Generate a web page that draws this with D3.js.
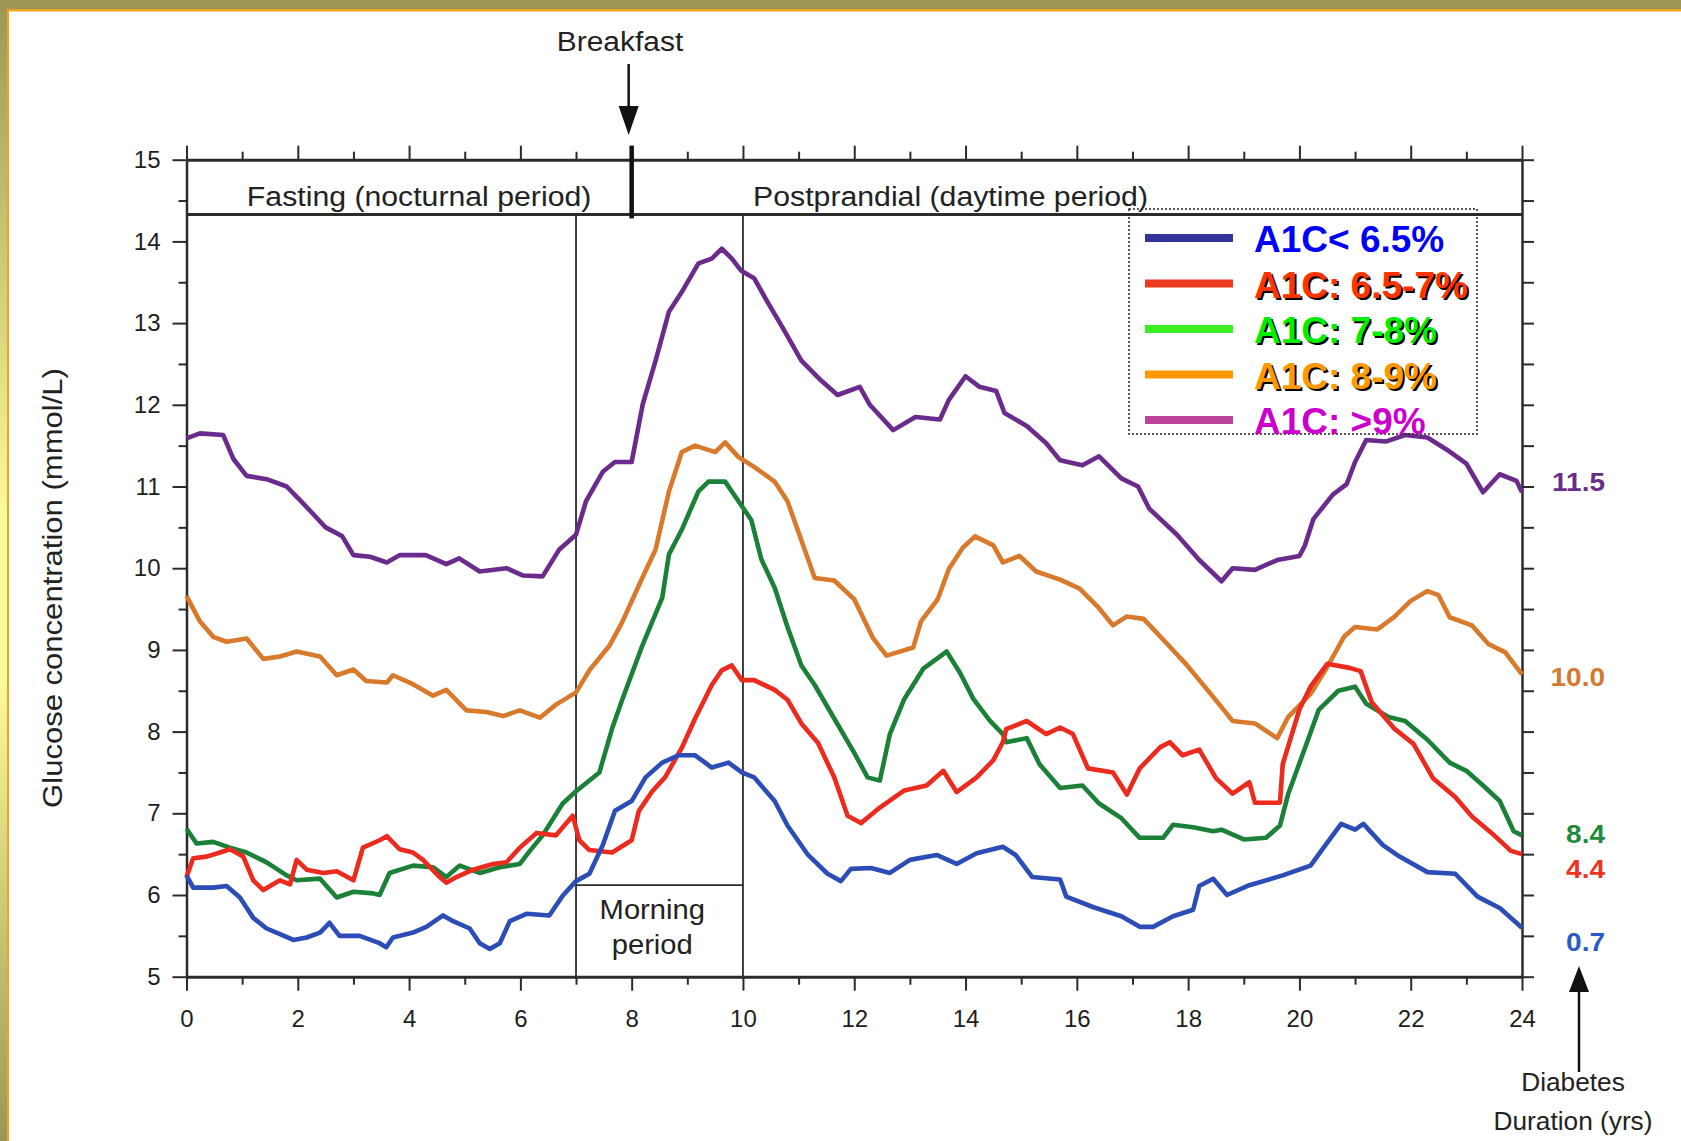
<!DOCTYPE html>
<html>
<head>
<meta charset="utf-8">
<script src="https://cdn.jsdelivr.net/npm/d3@7"></script>
<style>
  html, body { margin: 0; padding: 0; background: #fff; }
  svg { display: block; }
  text { font-family: "Liberation Sans", Arial, Helvetica, sans-serif; }
</style>
</head>
<body>
<div id="container"></div>
<script>
// glucose curves, [hour, mmol/L]
var a1cBelow65 = [[0,6.24],[0.12,6.09],[0.48,6.09],[0.72,6.11],[0.96,5.97],[1.2,5.72],[1.44,5.59],[1.68,5.52],[1.92,5.45],[2.16,5.48],[2.4,5.54],[2.57,5.66],[2.75,5.5],[3.11,5.5],[3.47,5.41],[3.59,5.36],[3.71,5.48],[4.07,5.54],[4.31,5.61],[4.61,5.75],[4.79,5.68],[5.09,5.59],[5.27,5.41],[5.45,5.34],[5.63,5.41],[5.81,5.68],[6.11,5.77],[6.52,5.75],[6.76,5.99],[7.0,6.17],[7.24,6.26],[7.48,6.61],[7.7,7.03],[8.0,7.15],[8.25,7.44],[8.55,7.62],[8.84,7.71],[9.14,7.71],[9.44,7.56],[9.74,7.62],[9.98,7.5],[10.2,7.44],[10.57,7.15],[10.8,6.85],[11.17,6.49],[11.52,6.26],[11.76,6.17],[11.94,6.32],[12.3,6.33],[12.64,6.27],[13.0,6.43],[13.48,6.49],[13.84,6.38],[14.2,6.51],[14.67,6.59],[14.9,6.49],[15.2,6.22],[15.7,6.19],[15.81,5.98],[16.3,5.85],[16.8,5.74],[17.13,5.61],[17.37,5.61],[17.73,5.74],[18.09,5.82],[18.2,6.11],[18.45,6.2],[18.7,6.0],[19.1,6.12],[19.7,6.24],[20.2,6.36],[20.5,6.64],[20.75,6.87],[21.0,6.8],[21.15,6.87],[21.5,6.61],[21.8,6.47],[22.3,6.28],[22.8,6.26],[23.2,5.98],[23.6,5.84],[24,5.6]];

var a1c65to7 = [[0,6.22],[0.12,6.45],[0.36,6.47],[0.6,6.52],[0.78,6.56],[1.02,6.47],[1.2,6.18],[1.38,6.06],[1.68,6.18],[1.86,6.13],[1.98,6.43],[2.16,6.31],[2.46,6.27],[2.7,6.29],[3.0,6.18],[3.17,6.58],[3.47,6.67],[3.6,6.72],[3.83,6.56],[4.07,6.52],[4.25,6.43],[4.55,6.22],[4.67,6.15],[4.85,6.22],[5.15,6.31],[5.51,6.38],[5.75,6.4],[5.99,6.58],[6.29,6.76],[6.64,6.73],[6.94,6.97],[7.06,6.67],[7.24,6.55],[7.65,6.52],[8.0,6.67],[8.13,7.03],[8.37,7.27],[8.6,7.44],[8.9,7.8],[9.14,8.16],[9.44,8.57],[9.62,8.75],[9.8,8.81],[9.98,8.63],[10.2,8.63],[10.57,8.51],[10.8,8.39],[11.05,8.1],[11.35,7.86],[11.64,7.44],[11.88,6.97],[12.12,6.88],[12.46,7.07],[12.9,7.28],[13.3,7.34],[13.6,7.52],[13.84,7.26],[14.2,7.44],[14.5,7.65],[14.67,7.87],[14.73,8.03],[15.1,8.13],[15.45,7.97],[15.7,8.05],[15.93,7.97],[16.2,7.55],[16.65,7.5],[16.9,7.23],[17.13,7.55],[17.5,7.81],[17.67,7.87],[17.9,7.71],[18.2,7.78],[18.5,7.43],[18.8,7.24],[19.1,7.38],[19.2,7.13],[19.65,7.13],[19.7,7.6],[20.0,8.27],[20.2,8.55],[20.5,8.83],[20.9,8.78],[21.1,8.74],[21.3,8.36],[21.7,8.04],[22.05,7.85],[22.4,7.43],[22.8,7.2],[23.1,6.96],[23.5,6.73],[23.8,6.54],[24,6.5]];

var a1c7to8 = [[0,6.81],[0.18,6.63],[0.48,6.65],[0.78,6.58],[1.08,6.52],[1.44,6.4],[1.8,6.24],[1.98,6.18],[2.4,6.2],[2.7,5.97],[3.0,6.04],[3.35,6.02],[3.47,6.0],[3.65,6.27],[4.07,6.36],[4.43,6.34],[4.67,6.22],[4.91,6.36],[5.27,6.27],[5.63,6.34],[5.99,6.38],[6.17,6.54],[6.4,6.73],[6.76,7.12],[7.0,7.27],[7.42,7.5],[7.65,8.04],[7.83,8.39],[8.19,9.05],[8.55,9.64],[8.67,10.17],[8.9,10.47],[9.2,10.94],[9.38,11.06],[9.68,11.06],[9.92,10.82],[10.15,10.59],[10.33,10.11],[10.57,9.76],[10.8,9.28],[11.05,8.81],[11.29,8.57],[11.64,8.16],[12.0,7.74],[12.24,7.44],[12.46,7.4],[12.64,7.97],[12.9,8.4],[13.24,8.77],[13.66,8.98],[13.9,8.72],[14.14,8.4],[14.44,8.13],[14.67,7.97],[14.73,7.87],[15.1,7.92],[15.33,7.6],[15.7,7.31],[16.1,7.34],[16.4,7.12],[16.8,6.94],[17.13,6.7],[17.55,6.7],[17.73,6.86],[18.09,6.83],[18.45,6.78],[18.6,6.8],[19.0,6.68],[19.4,6.7],[19.65,6.85],[19.8,7.24],[20.1,7.8],[20.35,8.27],[20.7,8.5],[21.0,8.55],[21.2,8.34],[21.6,8.18],[21.9,8.13],[22.3,7.9],[22.7,7.62],[23.0,7.52],[23.3,7.34],[23.6,7.15],[23.85,6.78],[24,6.73]];

var a1c8to9 = [[0,9.66],[0.24,9.35],[0.48,9.16],[0.72,9.1],[1.08,9.14],[1.38,8.89],[1.68,8.92],[1.98,8.98],[2.4,8.92],[2.7,8.69],[3.0,8.76],[3.23,8.62],[3.6,8.6],[3.71,8.69],[4.07,8.58],[4.43,8.44],[4.67,8.51],[5.03,8.26],[5.39,8.24],[5.69,8.19],[5.99,8.26],[6.35,8.17],[6.64,8.33],[7.0,8.48],[7.24,8.75],[7.6,9.05],[7.83,9.34],[8.19,9.88],[8.43,10.23],[8.67,10.94],[8.9,11.42],[9.14,11.5],[9.5,11.42],[9.68,11.54],[9.92,11.36],[10.2,11.24],[10.57,11.06],[10.8,10.82],[11.17,10.11],[11.29,9.88],[11.64,9.85],[12.0,9.62],[12.34,9.14],[12.58,8.93],[13.06,9.03],[13.2,9.35],[13.5,9.62],[13.7,9.99],[13.95,10.25],[14.17,10.39],[14.5,10.28],[14.67,10.07],[14.97,10.15],[15.27,9.96],[15.7,9.86],[16.05,9.75],[16.4,9.51],[16.65,9.3],[16.9,9.41],[17.2,9.38],[17.6,9.09],[17.97,8.82],[18.3,8.55],[18.6,8.3],[18.8,8.13],[19.2,8.1],[19.6,7.92],[19.8,8.18],[20.2,8.46],[20.5,8.79],[20.8,9.16],[21.0,9.28],[21.4,9.25],[21.7,9.4],[22.0,9.6],[22.3,9.72],[22.5,9.67],[22.7,9.4],[23.1,9.3],[23.4,9.07],[23.7,8.97],[24,8.7]];

var a1cAbove9 = [[0,11.59],[0.24,11.65],[0.66,11.63],[0.84,11.34],[1.08,11.13],[1.44,11.09],[1.8,11.0],[2.1,10.79],[2.28,10.66],[2.5,10.5],[2.8,10.39],[3.0,10.16],[3.3,10.14],[3.6,10.07],[3.83,10.16],[4.3,10.16],[4.67,10.05],[4.9,10.12],[5.27,9.96],[5.75,10.0],[6.05,9.91],[6.4,9.9],[6.7,10.23],[7.0,10.41],[7.18,10.82],[7.48,11.18],[7.7,11.3],[8.0,11.3],[8.2,12.01],[8.43,12.54],[8.67,13.14],[8.9,13.38],[9.2,13.73],[9.44,13.79],[9.62,13.91],[9.8,13.79],[9.97,13.64],[10.2,13.55],[10.44,13.26],[10.7,12.96],[11.05,12.54],[11.4,12.3],[11.7,12.12],[12.1,12.22],[12.28,12.0],[12.7,11.69],[13.1,11.85],[13.54,11.82],[13.7,12.06],[14.0,12.35],[14.25,12.22],[14.55,12.17],[14.7,11.9],[15.1,11.74],[15.45,11.53],[15.7,11.32],[16.1,11.26],[16.4,11.37],[16.8,11.1],[17.1,11.0],[17.3,10.73],[17.8,10.41],[18.2,10.1],[18.6,9.84],[18.8,10.0],[19.2,9.98],[19.6,10.1],[20.0,10.15],[20.1,10.28],[20.25,10.6],[20.6,10.9],[20.85,11.03],[21.0,11.3],[21.2,11.57],[21.55,11.55],[21.9,11.63],[22.3,11.6],[22.65,11.45],[23.0,11.28],[23.3,10.93],[23.6,11.15],[23.9,11.07],[24,10.93]];

var legendLabels = ["A1C< 6.5%", "A1C: 6.5-7%", "A1C: 7-8%", "A1C: 8-9%", "A1C: >9%"];
var durationLabels = ["0.7", "4.4", "8.4", "10.0", "11.5"];
var xTicks = [0, 2, 4, 6, 8, 10, 12, 14, 16, 18, 20, 22, 24];
var yTicks = [5, 6, 7, 8, 9, 10, 11, 12, 13, 14, 15];

var W = 1681, H = 1141;
var lineColors = ["#2b4db5", "#ec2a1e", "#1b8038", "#d8792c", "#6a2b8c"];
var swatchColors = ["#333399", "#ee3a1f", "#3aee22", "#ff9900", "#bb4499"];
var textColors = ["#0000ff", "#ff3300", "#00ee00", "#ff9900", "#cc00cc"];
var durColors = ["#2a5cc4", "#ee3322", "#1e8a3c", "#d4792e", "#6b2d8a"];
var durY = [951, 878, 843, 686, 491];

var series = [a1cBelow65, a1c65to7, a1c7to8, a1c8to9, a1cAbove9];

var svg = d3.select("#container").append("svg")
    .attr("width", W)
    .attr("height", H);

svg.append("rect").attr("width", W).attr("height", H).attr("fill", "#fff");

// slide frame
var grad = svg.append("defs").append("linearGradient")
    .attr("id", "leftStrip").attr("x1", 0).attr("y1", 0).attr("x2", 0).attr("y2", 1);
grad.append("stop").attr("offset", "0%").attr("stop-color", "#9b9656");
grad.append("stop").attr("offset", "45%").attr("stop-color", "#fcfa96");
grad.append("stop").attr("offset", "60%").attr("stop-color", "#fcfa96");
grad.append("stop").attr("offset", "100%").attr("stop-color", "#9b9656");
svg.append("rect").attr("x", 0).attr("y", 0).attr("width", 7).attr("height", H).attr("fill", "url(#leftStrip)");
svg.append("rect").attr("x", 7).attr("y", 0).attr("width", 2).attr("height", H).attr("fill", "#f2a31f");
svg.append("rect").attr("x", 0).attr("y", 0).attr("width", W).attr("height", 9).attr("fill", "#9b9656");
svg.append("rect").attr("x", 7).attr("y", 9).attr("width", W).attr("height", 2.5).attr("fill", "#f2a31f");

var x = d3.scaleLinear().domain([0, 24]).range([186.5, 1522]);
var y = d3.scaleLinear().domain([5, 15]).range([976.7, 159.7]);

var ink = "#2b2b2b";

function styleAxis(g, w) {
    g.attr("color", ink);
    g.select(".domain").attr("stroke-width", w);
    g.selectAll(".tick line").attr("stroke-width", 2);
    g.selectAll(".tick text")
        .attr("fill", "#1e1e1e")
        .style("font-size", "24px")
        .style("font-family", "'Liberation Sans', Arial, sans-serif");
}

// minor ticks
svg.append("g").attr("transform", "translate(" + x(0) + ",0)")
    .call(d3.axisLeft(y).tickValues(d3.range(5.5, 15, 1)).tickSize(8).tickFormat(""))
    .call(function(g) { g.select(".domain").remove(); styleAxis(g, 2); });
svg.append("g").attr("transform", "translate(0," + y(5) + ")")
    .call(d3.axisBottom(x).tickValues(d3.range(1, 24, 2)).tickSize(8).tickFormat(""))
    .call(function(g) { g.select(".domain").remove(); styleAxis(g, 2); });
svg.append("g").attr("transform", "translate(0," + y(15) + ")")
    .call(d3.axisTop(x).tickValues(d3.range(1, 24, 2)).tickSize(8).tickFormat(""))
    .call(function(g) { g.select(".domain").remove(); styleAxis(g, 2); });

// main axes
svg.append("g").attr("transform", "translate(" + x(0) + ",0)")
    .call(d3.axisLeft(y).tickValues(yTicks).tickSize(14).tickSizeOuter(0).tickPadding(12))
    .call(function(g) { styleAxis(g, 2.5); });
svg.append("g").attr("transform", "translate(0," + y(5) + ")")
    .call(d3.axisBottom(x).tickValues(xTicks).tickSize(14).tickSizeOuter(0).tickPadding(19))
    .call(function(g) { styleAxis(g, 3); });
svg.append("g").attr("transform", "translate(0," + y(15) + ")")
    .call(d3.axisTop(x).tickValues(xTicks).tickSize(14).tickSizeOuter(0).tickFormat(""))
    .call(function(g) { styleAxis(g, 3); });
svg.append("g").attr("transform", "translate(" + x(24) + ",0)")
    .call(d3.axisRight(y).tickValues(d3.range(5, 15.01, 0.5)).tickSize(12).tickSizeOuter(0).tickFormat(""))
    .call(function(g) { styleAxis(g, 2.5); });

// period dividers
var divY = y(14.33);
svg.append("line").attr("x1", x(0)).attr("x2", x(24)).attr("y1", divY).attr("y2", divY)
    .attr("stroke", ink).attr("stroke-width", 3);
[7, 10].forEach(function(h) {
    svg.append("line").attr("x1", x(h)).attr("x2", x(h)).attr("y1", divY).attr("y2", y(5))
        .attr("stroke", ink).attr("stroke-width", 1.8);
});
svg.append("line").attr("x1", x(7)).attr("x2", x(10)).attr("y1", y(6.12)).attr("y2", y(6.12))
    .attr("stroke", ink).attr("stroke-width", 1.8);
svg.append("line").attr("x1", x(8)).attr("x2", x(8)).attr("y1", y(15) - 14).attr("y2", divY + 4)
    .attr("stroke", "#111").attr("stroke-width", 4.5);

function label(txt, px, py, size, sx, opts) {
    opts = opts || {};
    return svg.append("text")
        .attr("transform", "translate(" + px + "," + py + ") scale(" + sx + ",1)")
        .attr("text-anchor", opts.anchor || "middle")
        .attr("fill", opts.fill || "#222")
        .style("font-size", size + "px")
        .style("font-weight", opts.weight || "normal")
        .text(txt);
}

label("Fasting (nocturnal period)", x(4.18), 206, 27, 1.12);
label("Postprandial (daytime period)", x(13.73), 206, 27, 1.12);
label("Morning", x(8.37), 919, 27, 1.08);
label("period", x(8.37), 954, 27, 1.08);
label("Breakfast", x(7.79), 51, 28, 1.07);

// breakfast arrow
var bx = x(8) - 3;
svg.append("line").attr("x1", bx).attr("x2", bx).attr("y1", 64).attr("y2", 110)
    .attr("stroke", "#111").attr("stroke-width", 2.5);
svg.append("path").attr("d", "M" + (bx - 10) + ",106L" + (bx + 10) + ",106L" + bx + ",135Z").attr("fill", "#111");

// y title
svg.append("text")
    .attr("transform", "translate(62," + 588 + ") rotate(-90) scale(1.15,1)")
    .attr("text-anchor", "middle")
    .attr("fill", "#222")
    .style("font-size", "27px")
    .text("Glucose concentration (mmol/L)");

// curves
var line = d3.line()
    .x(function(d) { return x(d[0]); })
    .y(function(d) { return y(d[1]); });

[4, 3, 2, 1, 0].forEach(function(i) {
    svg.append("path")
        .datum(series[i])
        .attr("d", line)
        .attr("fill", "none")
        .attr("stroke", lineColors[i])
        .attr("stroke-width", 4.6)
        .attr("stroke-linejoin", "round");
});

// diabetes duration labels
durationLabels.forEach(function(t, i) {
    label(t, 1605, durY[i], 25, 1.12, { anchor: "end", fill: durColors[i], weight: "bold" });
});
var ax = 1579;
svg.append("line").attr("x1", ax).attr("x2", ax).attr("y1", 1072).attr("y2", 988)
    .attr("stroke", "#111").attr("stroke-width", 2.5);
svg.append("path").attr("d", "M" + (ax - 10) + ",992L" + (ax + 10) + ",992L" + ax + ",966Z").attr("fill", "#111");
label("Diabetes", 1573, 1091, 25, 1.05);
label("Duration (yrs)", 1573, 1130, 25, 1.05);

// legend
var legend = svg.append("g");
legend.append("rect")
    .attr("x", 1129).attr("y", 209).attr("width", 348).attr("height", 225)
    .attr("fill", "none").attr("stroke", "#222").attr("stroke-width", 1.5)
    .attr("stroke-dasharray", "2,2");
var rowY = d3.scalePoint().domain(d3.range(5)).range([238, 420]);
legendLabels.forEach(function(t, i) {
    var cy = rowY(i);
    legend.append("rect").attr("x", 1145).attr("y", cy - 4).attr("width", 88).attr("height", 8)
        .attr("fill", swatchColors[i]);
    if (i >= 1 && i <= 3) {
        legend.append("text").attr("x", 1256).attr("y", cy + 16)
            .attr("fill", "#000").style("font-size", "37px").style("font-weight", "bold")
            .style("font-family", "Arial, 'Liberation Sans', sans-serif").text(t);
    }
    legend.append("text").attr("x", 1254).attr("y", cy + 14)
        .attr("fill", textColors[i]).style("font-size", "37px").style("font-weight", "bold")
        .style("font-family", "Arial, 'Liberation Sans', sans-serif").text(t);
});
</script>
</body>
</html>
